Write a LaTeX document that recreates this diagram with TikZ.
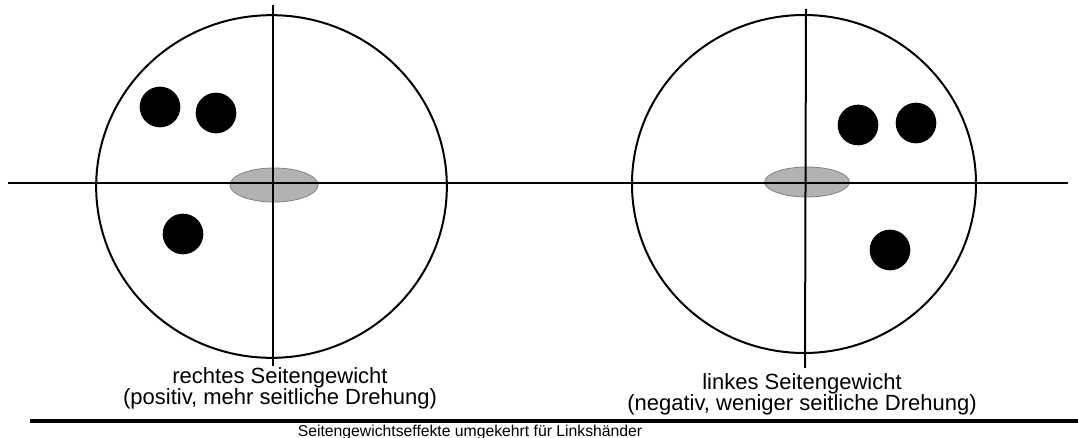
\documentclass[tikz,border=0pt]{standalone}
\usepackage{fontspec}
\setmainfont{Liberation Sans}
\usetikzlibrary{shapes.geometric}
\tikzset{
  rim/.style  ={ellipse, draw=black, line width=1.5pt, inner sep=0pt, outer sep=0pt},
  hub/.style  ={ellipse, fill=black!30, draw=black!50, line width=0.6pt, inner sep=0pt},
  wgt/.style  ={circle, fill=black, inner sep=0pt, minimum size=30.5pt},
  axis/.style ={line width=2.2pt},
  spoke/.style={line width=1.5pt},
  lbl/.style  ={align=center, inner sep=0pt, anchor=north, font=\fontsize{16.5}{16}\selectfont},
  note/.style ={inner sep=0pt, anchor=base, font=\fontsize{11.8}{12}\selectfont},
}

\begin{document}
\begin{tikzpicture}[x=0.75pt, y=-0.75pt]
  \useasboundingbox (0,0) rectangle (1078,438);
  % left wheel
  \node[rim, minimum width=263pt, minimum height=257pt] (rimL) at (271.5,186.5) {};
  \node[hub, minimum width=66pt, minimum height=25.5pt] (hubL) at (274,185) {};
  \node[wgt] (wL1) at (160,107) {};
  \node[wgt] (wL2) at (216,113) {};
  \node[wgt] (wL3) at (183,234) {};
  % right wheel
  \node[rim, minimum width=258pt, minimum height=253.5pt] (rimR) at (804,184) {};
  \node[hub, minimum width=63.5pt, minimum height=22.5pt] (hubR) at (807,182) {};
  \node[wgt] (wR1) at (858,125) {};
  \node[wgt] (wR2) at (916,123) {};
  \node[wgt] (wR3) at (890,250) {};
  % axes
  \coordinate (axW) at (8,183);
  \coordinate (axE) at (1068,183);
  \coordinate (spLt) at (273,5);
  \coordinate (spLb) at (273,366);
  \coordinate (spRt) at (806,9);
  \coordinate (spRb) at (805,368);
  \draw[axis] (axW) -- (axE);
  \draw[spoke] (spLt) -- (spLb);
  \draw[spoke] (spRt) -- (spRb);
  % labels
  \node[lbl] (labL) at (280,367) {rechtes Seitengewicht\\(positiv, mehr seitliche Drehung)};
  \node[lbl] (labR) at (802,373) {linkes Seitengewicht\\(negativ, weniger seitliche Drehung)};
  \coordinate (rulW) at (30,421);
  \coordinate (rulE) at (1078,421);
  \draw[line width=2.6pt] (rulW) -- (rulE);
  \node[note] (foot) at (470,436) {Seitengewichtseffekte umgekehrt für Linkshänder};
\end{tikzpicture}
\end{document}
